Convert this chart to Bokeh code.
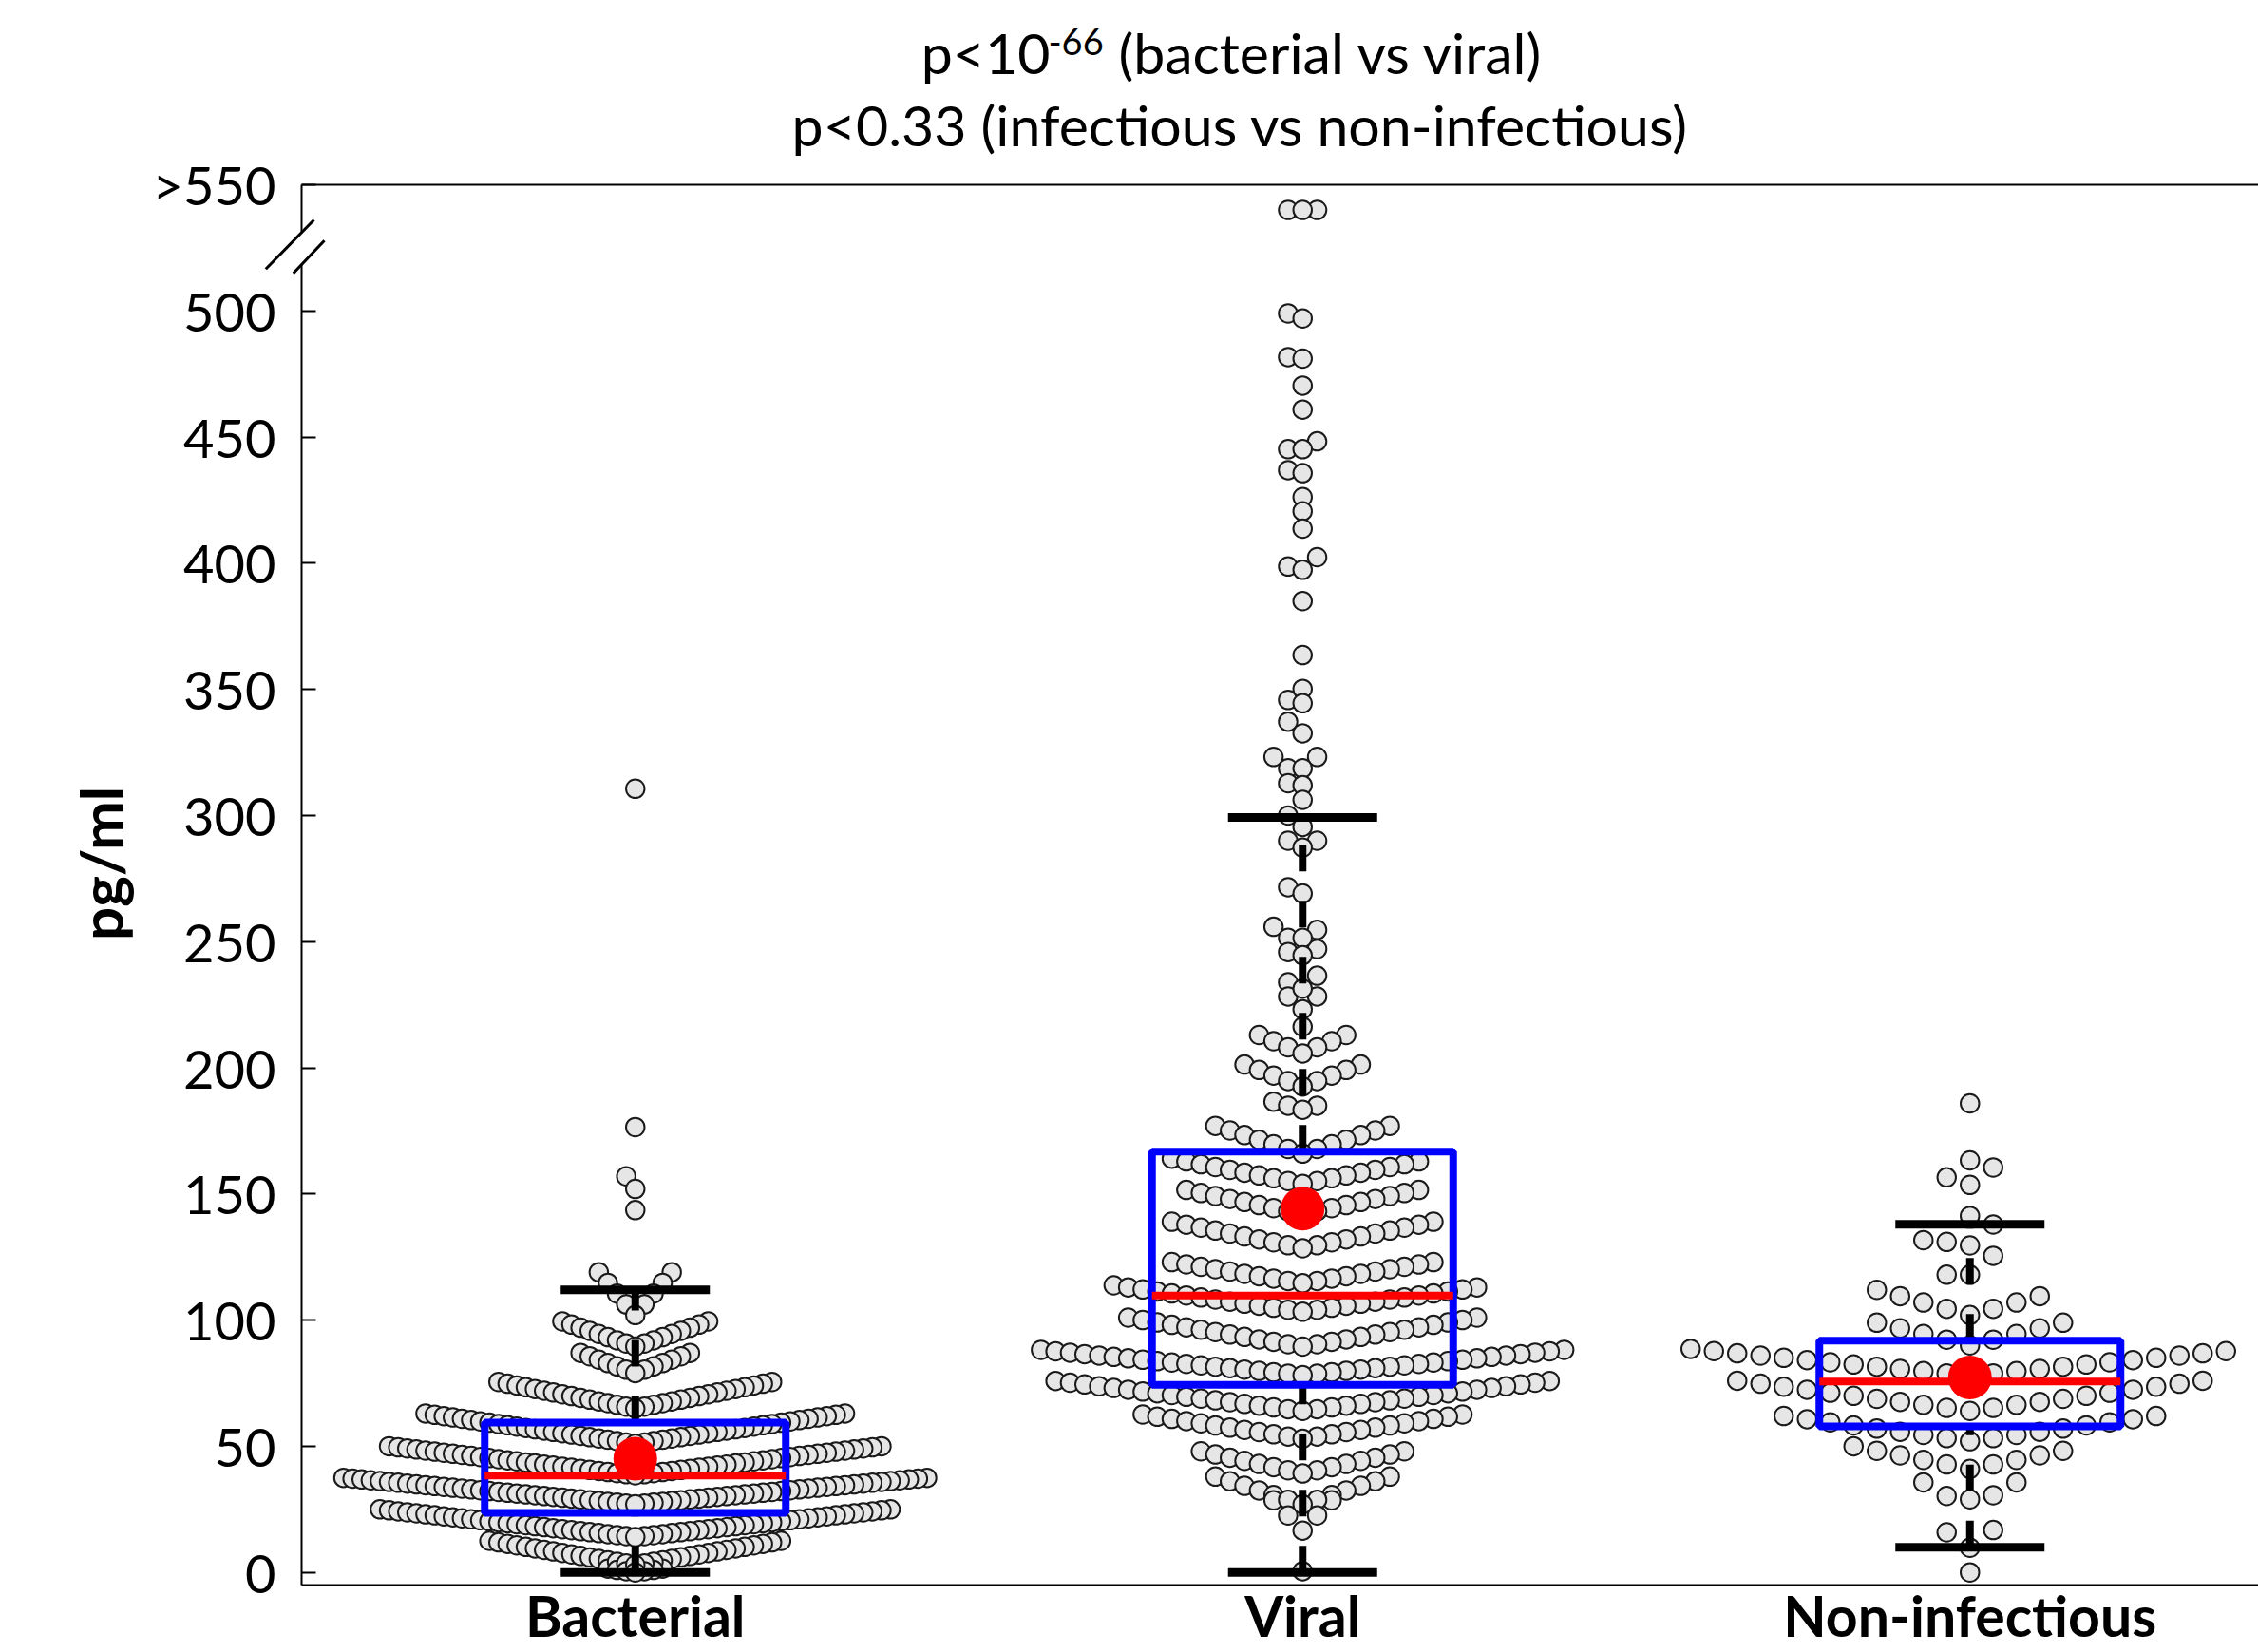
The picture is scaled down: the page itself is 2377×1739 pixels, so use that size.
import numpy as np
from bokeh.plotting import figure
from bokeh.models import Range1d, FixedTicker, LinearAxis
from bokeh.embed import file_html
from bokeh.resources import INLINE
from bokeh.core.properties import value

# ---------------- values ----------------
groups = ["Bacterial", "Viral", "Non-infectious"]
group_pos = [1, 2, 3]

y_ticks = [0, 50, 100, 150, 200, 250, 300, 350, 400, 450, 500, 550]
y_tick_labels = ["0", "50", "100", "150", "200", "250", "300", "350", "400", "450", "500", ">550"]

# swarm rows: value at the middle of a row, value at its two ends, number of points
bac_row_mid = [0, 3, 14, 27, 38.5, 51, 65, 79, 89.5, 102]
bac_row_end = [1.5, 12.5, 25, 37.5, 50, 63, 75.5, 87, 99.5, 119]
bac_row_n = [7, 33, 57, 65, 55, 47, 31, 13, 17, 9]
bac_single = [143.6, 152, 157, 176.5, 310.6]

vir_row_mid = [0.5, 16.6, 27, 39.2, 53, 64, 78.2, 89.5, 103.3, 114.6, 128.5, 142, 154, 166, 183.4, 192.6, 205.7]
vir_row_end = [0.5, 28.6, 38, 48, 62.6, 75.9, 88.2, 101, 113.8, 123, 139, 151.6, 164, 177, 186.6, 201.3, 213]
vir_row_n = [1, 5, 13, 15, 23, 35, 37, 25, 26, 19, 19, 17, 18, 13, 4, 9, 7]
vir_single = [216.3, 223.2, 228.3, 228.3, 231.4, 233.9, 236.5, 244.6, 245.9, 247.1, 251.5, 251.5,
              254.7, 255.9, 269.1, 271.6, 287.3, 290, 290, 295.5, 300, 306.2, 312, 312.8, 318.7,
              318.7, 323.2, 323.2, 332.6, 337.2, 344.5, 345.8, 350.2, 363.6, 385, 397.4, 398.7,
              402.4, 413.7, 420.6, 426.2, 435.7, 436.9, 445.2, 445.2, 448.3, 460.9, 470.4, 481.1,
              481.7, 497, 499, 540, 540, 540]

non_row_mid = [41, 52, 64, 78, 90, 102]
non_row_end = [50, 62, 76, 88.6, 99, 112]
non_row_n = [10, 17, 21, 24, 9, 8]
non_single = [0, 9.8, 15.9, 16.8, 29, 30.3, 30.6, 35.7, 35.7, 118, 118, 125.5, 129.6, 131,
              131.7, 137.9, 141.3, 153.6, 156.6, 160.5, 163.3, 185.9]

# box plot statistics
box_q1 = [23.6, 74.4, 57.9]
box_median = [38.4, 109.7, 75.7]
box_q3 = [59.4, 166.8, 91.9]
box_mean = [45.1, 144.2, 77.3]
whisker_low = [0, 0, 10]
whisker_high = [112, 299.2, 138]

# ---------------- geometry / style ----------------
FIG_W, FIG_H = 2377, 1739
FL, FR, FT, FB = 317, 2377, 194, 1668          # frame edges in page pixels
X0, Y0, Y1 = 0.5, -5, 550
XPX = 702.5                                     # pixels per category step
X1 = X0 + (FR - FL) / XPX
YPX = (FB - FT) / (Y1 - Y0)


def dx(px):
    return X0 + (px - FL) / XPX


def dy(py):
    return Y0 + (FB - py) / YPX


FONT = "Lato"
step_px = [9.6, 15.3, 24.5]      # horizontal spacing of swarm points per group
gap_px = [14.0, 14.5, 23.0]      # minimum distance for isolated points

p = figure(width=FIG_W, height=FIG_H, x_range=Range1d(X0, X1), y_range=Range1d(Y0, Y1),
           output_backend="svg", toolbar_location=None, title=None,
           min_border_left=FL, min_border_right=0, min_border_top=FT, min_border_bottom=FIG_H - FB)
p.outline_line_color = None
p.grid.visible = False
p.background_fill_color = "white"
p.border_fill_color = "white"

# y axis
yax = p.yaxis[0]
yax.ticker = FixedTicker(ticks=y_ticks)
yax.major_label_overrides = {t: l for t, l in zip(y_ticks, y_tick_labels)}
yax.major_tick_in = 15
yax.major_tick_out = 0
yax.major_tick_line_width = 2
yax.minor_tick_line_color = None
yax.axis_line_width = 2
yax.axis_line_color = "black"
yax.major_label_text_font = FONT
yax.major_label_text_font_size = "56px"
yax.major_label_text_color = "black"
yax.major_label_standoff = 27
yax.axis_label = "\u00a0\u00a0\u00a0pg/ml"
yax.axis_label_text_font = FONT
yax.axis_label_text_font_style = "bold"
yax.axis_label_text_font_size = "62px"
yax.axis_label_text_color = "black"
yax.axis_label_standoff = 15

# x axis
xax = p.xaxis[0]
xax.ticker = FixedTicker(ticks=group_pos)
xax.major_label_overrides = {g: n for g, n in zip(group_pos, groups)}
xax.major_tick_line_color = None
xax.minor_tick_line_color = None
xax.axis_line_width = 2
xax.axis_line_color = "black"
xax.major_label_text_font = FONT
xax.major_label_text_font_style = "bold"
xax.major_label_text_font_size = "59px"
xax.major_label_text_color = "black"
xax.major_label_standoff = -10

# top frame line
top_axis = LinearAxis(ticker=FixedTicker(ticks=[]), major_label_text_font_size="0px",
                      major_tick_line_color=None, minor_tick_line_color=None,
                      axis_line_width=2, axis_line_color="black")
p.add_layout(top_axis, "above")


# ---------------- swarm layout ----------------
def swarm(mids, ends, counts, singles, step, gap):
    offs, vals = [], []
    for m, e, n in zip(mids, ends, counts):
        half = n // 2
        for k in range(n):
            j = (k + 1) // 2
            side = -1 if k % 2 else 1
            frac = j / half if half else 0.0
            offs.append(side * j * step)
            vals.append(m + (e - m) * frac)
    for v in sorted(singles):
        j = 0
        placed = False
        while not placed:
            cands = [0] if j == 0 else [-j, j]
            for c in cands:
                ox = c * step
                ok = True
                for po, pv in zip(offs, vals):
                    ddx = ox - po
                    ddy = (v - pv) * YPX
                    if ddx * ddx + ddy * ddy < gap * gap:
                        ok = False
                        break
                if ok:
                    offs.append(ox)
                    vals.append(v)
                    placed = True
                    break
            j += 1
    order = sorted(range(len(offs)), key=lambda i: (-abs(offs[i]), -vals[i]))
    return [offs[i] for i in order], [vals[i] for i in order]


data = [
    (bac_row_mid, bac_row_end, bac_row_n, bac_single),
    (vir_row_mid, vir_row_end, vir_row_n, vir_single),
    (non_row_mid, non_row_end, non_row_n, non_single),
]

for gi, (mids, ends, counts, singles) in enumerate(data):
    offs, vals = swarm(mids, ends, counts, singles, step_px[gi], gap_px[gi])
    xs = [group_pos[gi] + o / XPX for o in offs]
    p.scatter(xs, vals, size=19.5, fill_color="#e6e6e6", line_color="#1a1a1a", line_width=2)

# ---------------- box plots ----------------
BOX_HW = 158.5 / XPX
CAP_HW = 78.5 / XPX
cx = np.array(group_pos, dtype=float)

# whiskers (dashed), drawn from the lower value upward
p.segment(x0=cx, y0=box_q3, x1=cx, y1=whisker_high, line_color="black", line_width=8, line_dash="28 31")
p.segment(x0=cx, y0=whisker_low, x1=cx, y1=box_q1, line_color="black", line_width=8, line_dash="28 31")
# caps
p.segment(x0=cx - CAP_HW, y0=whisker_high, x1=cx + CAP_HW, y1=whisker_high, line_color="black", line_width=9)
p.segment(x0=cx - CAP_HW, y0=whisker_low, x1=cx + CAP_HW, y1=whisker_low, line_color="black", line_width=9)
# boxes
p.quad(left=cx - BOX_HW, right=cx + BOX_HW, bottom=box_q1, top=box_q3,
       fill_color=None, line_color="#0000ff", line_width=8)
# medians
p.segment(x0=cx - BOX_HW, y0=box_median, x1=cx + BOX_HW, y1=box_median, line_color="#ff0000", line_width=8)
# means
p.scatter(cx, box_mean, size=46, fill_color="#ff0000", line_color=None)

# ---------------- axis break marks ----------------
p.segment(x0=[dx(FL)], y0=[dy(278)], x1=[dx(FL)], y1=[dy(244)], line_color="white", line_width=8, level="overlay")
p.segment(x0=[dx(279.3), dx(308.3)], y0=[dy(282.7), dy(287.3)],
          x1=[dx(330.0), dx(341.0)], y1=[dy(231.0), dy(252.7)],
          line_color="black", line_width=3, level="overlay")

# ---------------- title ----------------
TS, SS = 59, 38          # title / superscript font sizes (px)
BL = 0.39                 # baseline correction (em)
p.text(x=[dx(1105)], y=[dy(78 - BL * TS)], text=["p<10"], text_font=value(FONT), text_font_size=f"{TS}px",
       text_align="right", text_baseline="alphabetic", text_color="black", level="overlay")
p.text(x=[dx(1103)], y=[dy(58 - BL * SS)], text=["-66"], text_font=value(FONT), text_font_size=f"{SS}px",
       text_align="left", text_baseline="alphabetic", text_color="black", level="overlay")
p.text(x=[dx(1177)], y=[dy(78 - BL * TS)], text=["(bacterial vs viral)"], text_font=value(FONT),
       text_font_size=f"{TS}px", text_align="left", text_baseline="alphabetic", text_color="black",
       level="overlay")
p.text(x=[dx(1305)], y=[dy(154 - BL * TS)], text=["p<0.33 (infectious vs non-infectious)"],
       text_font=value(FONT), text_font_size=f"{TS}px", text_align="center", text_baseline="alphabetic",
       text_color="black", level="overlay")

open("out.html", "w").write(file_html(p, INLINE))
